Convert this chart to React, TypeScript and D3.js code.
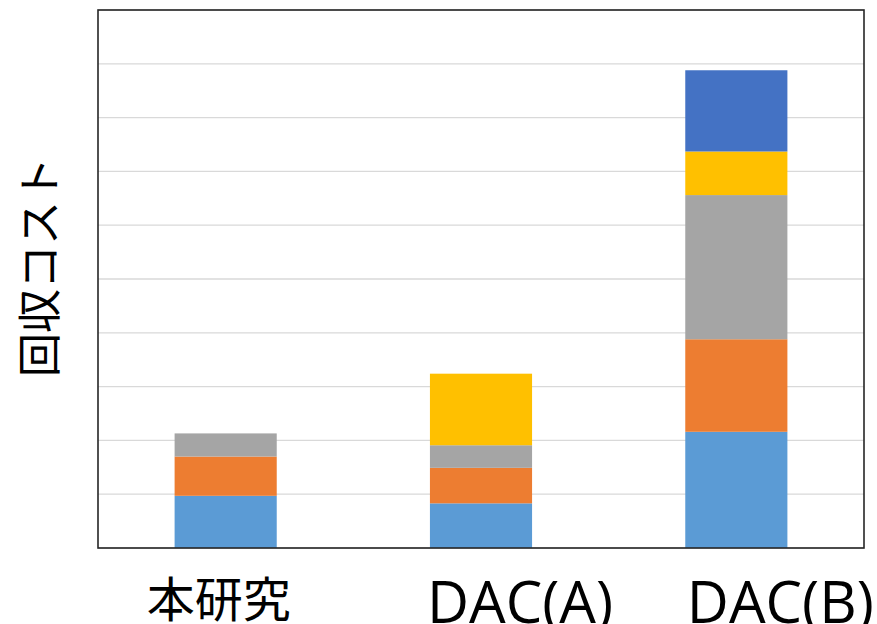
import React from "react";
import * as d3 from "d3";

// Recovery cost breakdown per method (stacked, axis units of one gridline)
const categories = ["本研究", "DAC(A)", "DAC(B)"];
const seriesNames = ["項目1", "項目2", "項目3", "項目4", "項目5"];
const item1 = [0.97, 0.83, 2.16];
const item2 = [0.73, 0.66, 1.72];
const item3 = [0.43, 0.42, 2.68];
const item4 = [0, 1.33, 0.81];
const item5 = [0, 0, 1.51];
const yTicks = [0, 1, 2, 3, 4, 5, 6, 7, 8, 9, 10];
const yTitle = "回収コスト";

const colors = ["#5B9BD5", "#ED7D31", "#A5A5A5", "#FFC000", "#4472C4"];

const W = 877;
const H = 624;
const margin = { left: 98, top: 10, right: 13, bottom: 76 };
const labelShift = [-7, 39, 44];

const isCJK = (s: string) => /[\u3040-\u9fff]/.test(s);

export default function App() {
  const innerW = W - margin.left - margin.right;
  const innerH = H - margin.top - margin.bottom;

  const x = d3.scaleBand<string>().domain(categories).range([0, innerW]).padding(0);
  const y = d3.scaleLinear().domain([0, 10]).range([innerH, 0]);
  const barW = x.bandwidth() * 0.4;

  const rows = categories.map((c, i) => ({
    cat: c,
    s0: item1[i],
    s1: item2[i],
    s2: item3[i],
    s3: item4[i],
    s4: item5[i],
  }));
  const stack = d3.stack<any>().keys(["s0", "s1", "s2", "s3", "s4"]);
  const layers = stack(rows);

  return (
    <svg width={W} height={H} style={{ display: "block", position: "absolute", left: 0, top: 0 }}>
      <rect x={0} y={0} width={W} height={H} fill="#ffffff" />
      <g transform={`translate(${margin.left},${margin.top})`}>
        {yTicks.map((t) => (
          <line key={t} x1={0} x2={innerW} y1={y(t)} y2={y(t)} stroke="#d9d9d9" strokeWidth={1.3} />
        ))}
        {layers.map((layer, li) => (
          <g key={seriesNames[li]} fill={colors[li]}>
            {layer.map((d, i) => {
              const h = y(d[0]) - y(d[1]);
              if (h <= 0) return null;
              return (
                <rect
                  key={categories[i]}
                  x={(x(categories[i]) as number) + (x.bandwidth() - barW) / 2}
                  y={y(d[1])}
                  width={barW}
                  height={h}
                />
              );
            })}
          </g>
        ))}
        <rect x={0} y={0} width={innerW} height={innerH} fill="none" stroke="#262626" strokeWidth={1.6} />
        {categories.map((c, i) => {
          const cjk = isCJK(c);
          return (
            <text
              key={c}
              x={(x(c) as number) + x.bandwidth() / 2 + labelShift[i]}
              y={innerH + (cjk ? 69 : 75)}
              textAnchor="middle"
              fontFamily={cjk ? "'Noto Sans CJK JP', sans-serif" : "'Open Sans', 'Noto Sans CJK JP', sans-serif"}
              fontSize={cjk ? 48 : 58}
              fill="#000000"
            >
              {c}
            </text>
          );
        })}
      </g>
      <text
        transform={`translate(56,${margin.top + innerH / 2 - 12}) rotate(-90)`}
        textAnchor="middle"
        fontFamily="'Noto Sans CJK JP', sans-serif"
        fontSize={44}
        fill="#000000"
      >
        {yTitle}
      </text>
    </svg>
  );
}
